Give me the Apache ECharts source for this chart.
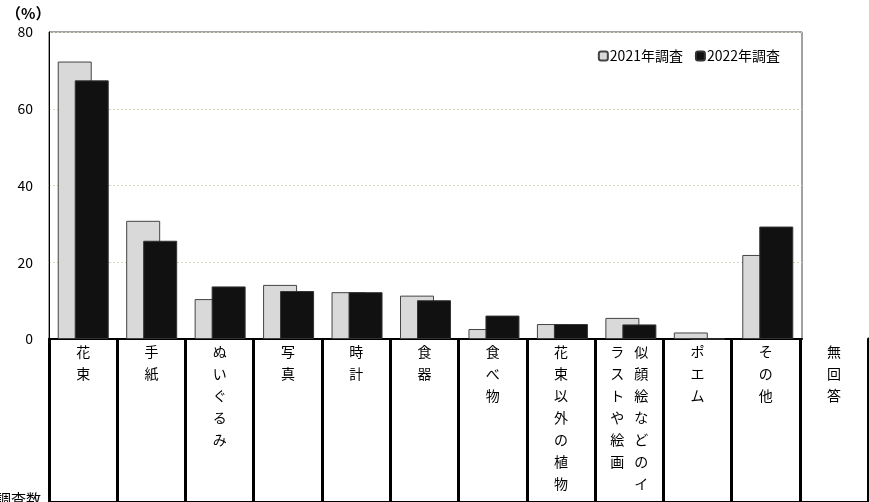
<!DOCTYPE html>
<html><head><meta charset="utf-8">
<script src="https://cdn.jsdelivr.net/npm/echarts@6/dist/echarts.min.js"></script>
<style>html,body{margin:0;padding:0;background:#fff}#c{width:869px;height:502px}</style>
</head><body><div id="c"></div>
<script>
const categories = ['花束','手紙','ぬいぐるみ','写真','時計','食器','食べ物','花束以外の植物','似顔絵などのイラストや絵画','ポエム','その他'];
const tableCategories = ['花束','手紙','ぬいぐるみ','写真','時計','食器','食べ物','花束以外の植物','似顔絵などのイラストや絵画','ポエム','その他','無回答'];
const series2021 = [72.3, 30.8, 10.4, 14.1, 12.2, 11.3, 2.6, 3.9, 5.5, 1.7, 21.9];
const series2022 = [67.4, 25.6, 13.7, 12.5, 12.2, 10.1, 6.1, 3.9, 3.8, 0, 29.3];
const seriesNames = ['2021年調査','2022年調査'];
const yTicks = [0, 20, 40, 60, 80];

const FONT = '"Noto Sans CJK JP", sans-serif';
const chart = echarts.init(document.getElementById('c'));

function vertLabel(v) {
  if (v === '似顔絵などのイラストや絵画') {
    const right = '似顔絵などのイ'.split('');
    const left = 'ラストや絵画'.split('');
    const rows = [];
    for (let i = 0; i < right.length; i++) {
      rows.push('{c|' + (left[i] || '　') + '}{c|' + right[i] + '}');
    }
    return rows.join('\n');
  }
  return v.split('').map(ch => '{s|' + ch + '}').join('\n');
}

chart.setOption({
  animation: false,
  textStyle: { fontFamily: FONT },
  title: [
    { text: '（%）', left: 1, top: 1, textStyle: { fontSize: 15, fontWeight: 'bold', color: '#000', fontFamily: FONT } },
    { text: '調査数', right: 823, top: 487, textStyle: { fontSize: 15, fontWeight: 'normal', color: '#000', fontFamily: FONT } }
  ],
  legend: {
    data: seriesNames, right: 84, top: 44, itemWidth: 9, itemHeight: 9, itemGap: 12,
    textStyle: { fontSize: 14, color: '#000', fontFamily: FONT, padding: [0, 0, 0, -3] }
  },
  grid: [
    { left: 49, right: 67, top: 32, bottom: 163, show: true, borderColor: '#444', borderWidth: 1, backgroundColor: 'transparent' },
    { left: 49, right: 1, top: 339, bottom: 0 }
  ],
  xAxis: [
    { type: 'category', gridIndex: 0, data: categories,
      axisLine: { lineStyle: { color: '#000', width: 2 } },
      axisTick: { inside: true, length: 5, lineStyle: { color: '#555' } },
      axisLabel: { show: false } },
    { type: 'category', gridIndex: 1, position: 'top', data: tableCategories,
      axisLine: { show: true, lineStyle: { color: '#000', width: 2 } },
      axisTick: { show: false },
      splitLine: { show: true, lineStyle: { color: '#000', width: 3 } },
      axisLabel: { inside: true, interval: 0, margin: 2, verticalAlign: 'top', formatter: vertLabel,
        rich: { s: { fontSize: 14, lineHeight: 22, color: '#000', fontFamily: FONT },
                c: { fontSize: 14, lineHeight: 22, width: 24, align: 'center', color: '#000', fontFamily: FONT } } } }
  ],
  yAxis: [
    { type: 'value', gridIndex: 0, min: yTicks[0], max: yTicks[yTicks.length - 1], interval: 20,
      axisLine: { show: true, lineStyle: { color: '#000', width: 1 } },
      axisTick: { show: false },
      axisLabel: { fontSize: 14, color: '#000', margin: 16, fontFamily: FONT },
      splitLine: { show: true, lineStyle: { color: '#d6d6b8', type: [2, 2], width: 1 } } },
    { type: 'value', gridIndex: 1, position: 'left', axisLine: { show: true, lineStyle: { color: '#000', width: 3 } },
      axisLabel: { show: false }, splitLine: { show: false }, axisTick: { show: false } },
    { type: 'value', gridIndex: 1, position: 'right', axisLine: { show: true, lineStyle: { color: '#000', width: 3 } },
      axisLabel: { show: false }, splitLine: { show: false }, axisTick: { show: false } }
  ],
  series: [
    { name: seriesNames[0], type: 'bar', xAxisIndex: 0, yAxisIndex: 0, data: series2021,
      barWidth: 34, barGap: '-50%',
      itemStyle: { color: '#d9d9d9', borderColor: '#444', borderWidth: 1 } },
    { name: seriesNames[1], type: 'bar', xAxisIndex: 0, yAxisIndex: 0, data: series2022,
      barWidth: 34, barGap: '-50%',
      itemStyle: { color: '#111', borderColor: '#333', borderWidth: 1 } }
  ]
});
</script></body></html>
